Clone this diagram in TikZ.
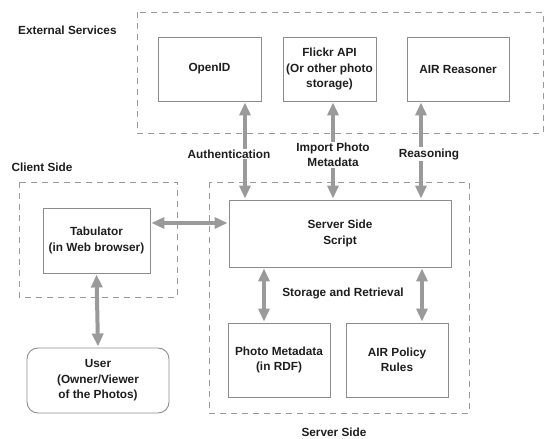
\documentclass[tikz,border=0pt]{standalone}
\usepackage{fontspec}
\setmainfont{Liberation Sans}
\usetikzlibrary{arrows.meta}
\definecolor{arrgray}{HTML}{9A9A9A}
\definecolor{boxgray}{HTML}{8C8C8C}
\definecolor{txt}{HTML}{1E1E1E}
\tikzset{
  box/.style={draw=boxgray, line width=0.9pt, align=center, inner sep=2pt, text=txt,
    font=\fontsize{11.8}{15.5}\selectfont\bfseries},
  group/.style={draw=arrgray, line width=0.9pt, dash pattern=on 6pt off 5pt},
  lbl/.style={text=txt, font=\fontsize{11.8}{15.5}\selectfont\bfseries, align=center, inner sep=1pt},
  arlbl/.style={lbl, fill=white},
  arr/.style={draw=arrgray, line width=4pt, {Triangle[width=11pt,length=13pt]}-{Triangle[width=11pt,length=13pt]}, shorten <=1pt, shorten >=1pt}
}
\begin{document}
\begin{tikzpicture}[x=1pt, y=-1pt]
\useasboundingbox (0,0) rectangle (547,439);
% groups
\draw[group] (137,12) rectangle (543,133);
\draw[group] (19,182) rectangle (177,297);
\draw[group] (209,182) rectangle (469,413);
\node[lbl, anchor=west] (ext) at (17,30) {External Services};
\node[lbl] (cli) at (42,167) {Client Side};
\node[lbl] (srv) at (334,432) {Server Side};
% nodes
\node[box, minimum width=103pt, minimum height=64pt] (openid) at (209.5,69) {OpenID};
\node[box, minimum width=93pt, minimum height=64pt] (flickr) at (329.5,69) {Flickr API\\(Or other photo\\storage)};
\node[box, minimum width=102pt, minimum height=64pt] (air) at (458,69) {AIR Reasoner};
\node[box, minimum width=222pt, minimum height=67pt] (script) at (340,233.5) {Server Side\\Script};
\node[box, minimum width=107pt, minimum height=65pt] (tab) at (96.5,240.5) {Tabulator\\(in Web browser)};
\node[box, minimum width=102pt, minimum height=74pt] (photo) at (279,360) {Photo Metadata\\(in RDF)};
\node[box, minimum width=102pt, minimum height=74pt] (policy) at (397,360) {AIR Policy\\Rules};
\node[box, rounded corners=11pt, minimum width=142pt, minimum height=65pt] (user) at (98,380.5) {User\\(Owner/Viewer\\of the Photos)};
% arrows
\draw[arr] ([xshift=35.5pt]openid.south) -- ([xshift=35.5pt]openid.south |- script.north);
\draw[arr] ([xshift=3.5pt]flickr.south) -- ([xshift=3.5pt]flickr.south |- script.north);
\draw[arr] ([xshift=-37pt]air.south) -- ([xshift=-37pt]air.south |- script.north);
\draw[arr] ([yshift=17.5pt]tab.east) -- ([yshift=17.5pt]tab.east -| script.west);
\draw[arr] (tab.south) -- (user.north);
\draw[arr] ([xshift=-15pt]photo.north |- script.south) -- ([xshift=-15pt]photo.north);
\draw[arr] ([xshift=25pt]policy.north |- script.south) -- ([xshift=25pt]policy.north);
% arrow labels
\node[arlbl] (la) at (229,154) {Authentication};
\node[arlbl] (li) at (333,155) {Import Photo\\Metadata};
\node[arlbl] (lr) at (429,154) {Reasoning};
\node[lbl] (ls) at (343,293) {Storage and Retrieval};
\end{tikzpicture}
\end{document}
